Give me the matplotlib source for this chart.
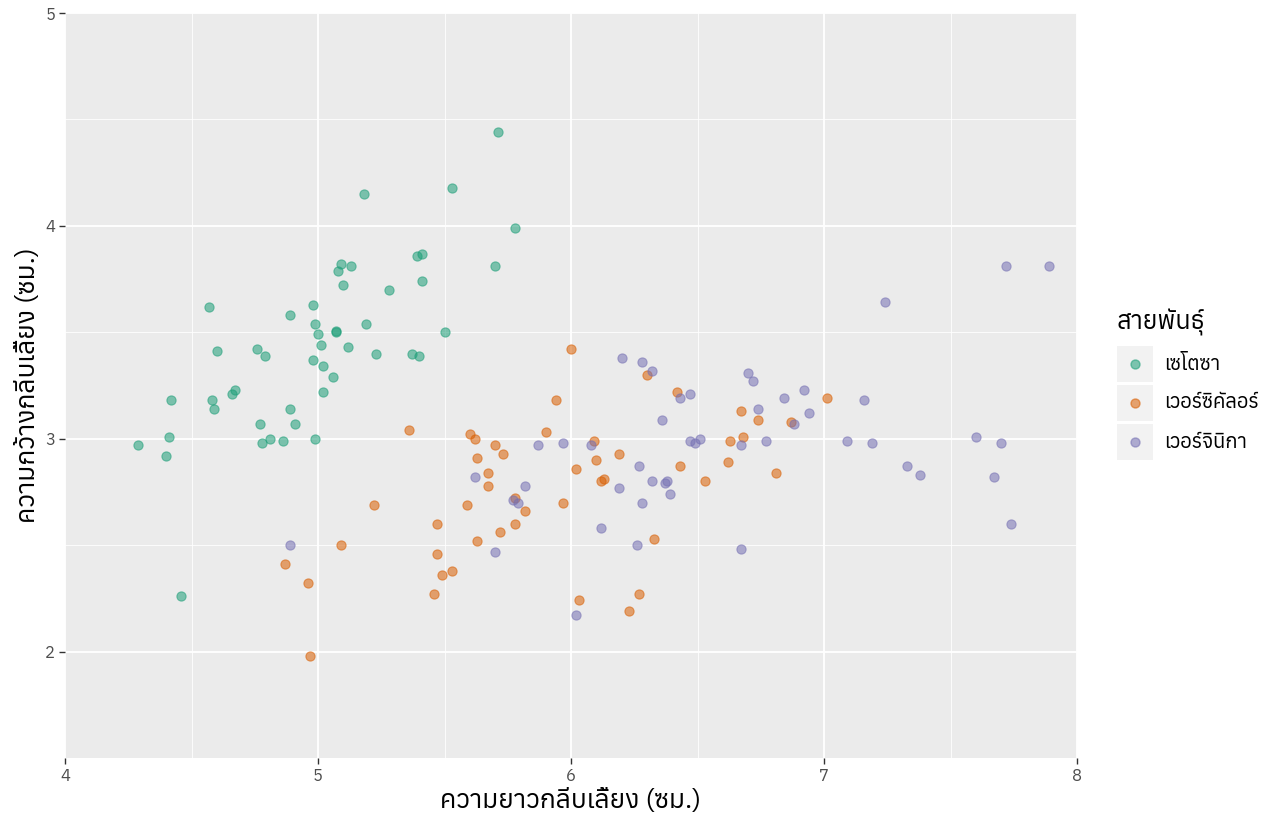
import matplotlib
matplotlib.use("Agg")
import matplotlib.pyplot as plt
from matplotlib import font_manager
from matplotlib.ft2font import FT2Font
from matplotlib.patches import Rectangle
from matplotlib.ticker import MultipleLocator

# find a font that has Thai glyphs
thai_fonts = []
for f in font_manager.fontManager.ttflist:
    try:
        if ord("ก") in FT2Font(f.fname).get_charmap():
            thai_fonts.append(f.name)
    except Exception:
        pass
plt.rcParams["font.family"] = sorted(set(thai_fonts))[:1] + ["DejaVu Sans"]

# data (sepal length / width, jittered)
setosa_x = [5.71, 5.18, 5.53, 5.78, 5.39, 5.41, 5.09, 5.13, 5.08, 5.70,
            5.10, 5.28, 5.41, 4.57, 4.98, 4.89, 4.99, 5.19, 5.00, 5.07,
            5.07, 5.50, 5.01, 5.12, 4.76, 4.60, 4.79, 5.23, 5.37, 5.40,
            4.98, 5.02, 4.67, 4.66, 5.06, 5.02, 4.42, 4.58, 4.59, 4.89,
            4.77, 4.91, 4.41, 4.81, 4.78, 4.86, 4.99, 4.29, 4.40, 4.46]
setosa_y = [4.44, 4.15, 4.18, 3.99, 3.86, 3.87, 3.82, 3.81, 3.79, 3.81,
            3.72, 3.70, 3.74, 3.62, 3.63, 3.58, 3.54, 3.54, 3.49, 3.50,
            3.505, 3.50, 3.44, 3.43, 3.42, 3.41, 3.39, 3.40, 3.40, 3.39,
            3.37, 3.34, 3.23, 3.21, 3.29, 3.22, 3.18, 3.18, 3.14, 3.14,
            3.07, 3.07, 3.01, 3.00, 2.98, 2.99, 3.00, 2.97, 2.92, 2.26]

versi_x = [6.00, 6.30, 5.94, 6.42, 7.01, 6.67, 6.74, 6.87, 5.36, 5.90,
           5.60, 5.62, 6.09, 6.63, 6.68, 5.70, 5.73, 6.19, 5.63, 6.10,
           6.43, 6.62, 6.02, 5.67, 6.81, 6.12, 6.13, 6.53, 5.67, 5.78,
           5.97, 5.22, 5.59, 5.82, 5.78, 5.47, 5.72, 6.33, 5.63, 5.09,
           5.47, 4.87, 5.53, 5.49, 4.96, 5.46, 6.27, 6.03, 6.23, 4.97]
versi_y = [3.42, 3.30, 3.18, 3.22, 3.19, 3.13, 3.09, 3.08, 3.04, 3.03,
           3.02, 3.00, 2.99, 2.99, 3.01, 2.97, 2.93, 2.93, 2.91, 2.90,
           2.87, 2.89, 2.86, 2.84, 2.84, 2.80, 2.81, 2.80, 2.78, 2.72,
           2.70, 2.69, 2.69, 2.66, 2.60, 2.60, 2.56, 2.53, 2.52, 2.50,
           2.46, 2.41, 2.38, 2.36, 2.32, 2.27, 2.27, 2.24, 2.19, 1.98]

virg_x = [7.72, 7.89, 7.24, 6.20, 6.28, 6.32, 6.70, 6.72, 6.47, 6.43,
          6.84, 6.92, 7.16, 6.36, 6.74, 6.94, 6.88, 6.47, 6.49, 6.51,
          6.08, 5.97, 5.87, 6.67, 6.77, 7.09, 7.19, 7.60, 7.70, 6.27,
          7.33, 7.38, 7.67, 5.62, 6.38, 6.32, 6.37, 5.82, 6.19, 6.39,
          5.77, 5.79, 6.28, 7.74, 6.12, 4.89, 6.26, 6.67, 5.70, 6.02]
virg_y = [3.81, 3.81, 3.64, 3.38, 3.36, 3.32, 3.31, 3.27, 3.21, 3.19,
          3.19, 3.23, 3.18, 3.09, 3.14, 3.12, 3.07, 2.99, 2.98, 3.00,
          2.97, 2.98, 2.97, 2.97, 2.99, 2.99, 2.98, 3.01, 2.98, 2.87,
          2.87, 2.83, 2.82, 2.82, 2.80, 2.80, 2.79, 2.78, 2.77, 2.74,
          2.71, 2.70, 2.70, 2.60, 2.58, 2.50, 2.50, 2.48, 2.47, 2.17]

species = ["เซโตซา", "เวอร์ซิคัลอร์", "เวอร์จินิกา"]
colors = ["#1B9E77", "#D95F02", "#7570B3"]
groups = [(setosa_x, setosa_y), (versi_x, versi_y), (virg_x, virg_y)]

fig = plt.figure(figsize=(12.8, 8.32), dpi=100)
ax = fig.add_axes([65 / 1280, 74 / 832, 1012 / 1280, 745 / 832])
ax.set_facecolor("#EBEBEB")

for (xs, ys), c in zip(groups, colors):
    ax.scatter(xs, ys, s=44, color=c, alpha=0.55, edgecolors=c,
               linewidths=0.8, zorder=3)

ax.set_xlim(4, 8)
ax.set_ylim(1.5, 5)
ax.xaxis.set_major_locator(MultipleLocator(1))
ax.yaxis.set_major_locator(MultipleLocator(1))
ax.xaxis.set_minor_locator(MultipleLocator(0.5))
ax.yaxis.set_minor_locator(MultipleLocator(0.5))
ax.grid(which="major", color="white", lw=1.3, zorder=1)
ax.grid(which="minor", color="white", lw=0.6, zorder=1)
ax.set_axisbelow(True)
for s in ax.spines.values():
    s.set_visible(False)
ax.tick_params(which="major", length=4, width=1, color="#333333",
               labelcolor="#4D4D4D", labelsize=12, pad=3)
ax.tick_params(which="minor", length=0)

ax.set_xlabel("ความยาวกลีบเลี้ยง (ซม.)", fontsize=19, color="black", labelpad=3)
ax.set_ylabel("ความกว้างกลีบเลี้ยง (ซม.)", fontsize=19, color="black", labelpad=4)

# legend drawn in figure pixels
W, H = 1280, 832
fig.text(1117 / W, 1 - 322 / H, "สายพันธุ์", fontsize=18, va="center", ha="left")
for i, (lab, c) in enumerate(zip(species, colors)):
    top = 346 + i * 39
    fig.patches.append(Rectangle((1117 / W, 1 - (top + 36) / H), 36 / W, 36 / H,
                                 transform=fig.transFigure, facecolor="#F2F2F2",
                                 edgecolor="none"))
    fig.lines.append(plt.Line2D([1135 / W], [1 - (top + 18) / H], marker="o",
                                markersize=6.5, color=c, alpha=0.55,
                                transform=fig.transFigure, linestyle="none"))
    fig.text(1164 / W, 1 - (top + 18) / H, lab, fontsize=14.5, va="center", ha="left")

fig.savefig("out.png", dpi=100)
